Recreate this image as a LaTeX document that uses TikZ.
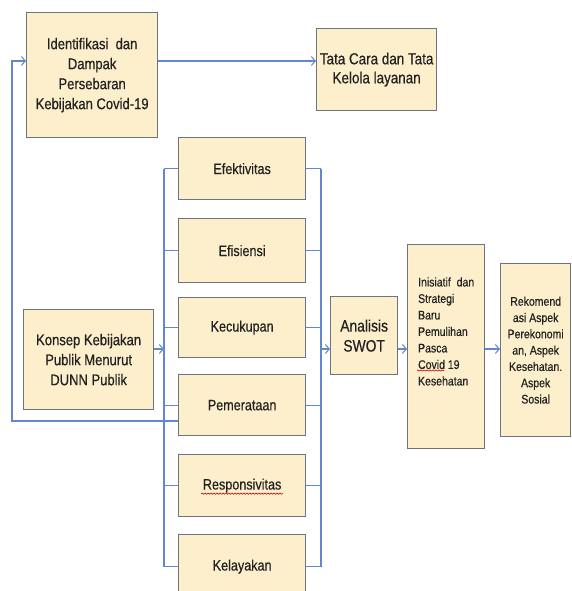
\documentclass[tikz,border=0pt]{standalone}
\usepackage{fontspec}
\setmainfont[FakeStretch=0.84,FakeBold=0.5]{Liberation Sans}
\usetikzlibrary{arrows.meta,decorations.pathmorphing}
\definecolor{boxfill}{HTML}{FDEFCB}
\definecolor{boxline}{HTML}{6E747E}
\definecolor{conn}{HTML}{6385D2}
\definecolor{txt}{HTML}{222222}
\tikzset{
  box/.style={draw=boxline, line width=1.3pt, fill=boxfill, anchor=north west,
    inner sep=2pt, text=txt, align=center},
  link/.style={draw=conn, line width=1.1pt},
  arr/.style={link, -{Straight Barb[length=4pt,width=9pt,line width=1pt]}},
  squig/.style={draw=red!80!black, line width=0.6pt,
    decorate, decoration={snake, amplitude=0.6pt, segment length=3pt}}
}
\begin{document}
\begin{tikzpicture}[x=1pt,y=-1pt]
\clip (0,0) rectangle (571,591);
\fill[white] (0,0) rectangle (571,591);
% boxes
\node[box, minimum width=131pt, minimum height=125pt, font=\fontsize{15.5}{20}\selectfont]
  (ident) at (26,12) {Identifikasi\ \ dan\\Dampak\\Persebaran\\Kebijakan Covid-19};
\node[box, minimum width=120pt, minimum height=82pt, font=\fontsize{16}{19}\selectfont]
  (tata) at (316,28) {Tata Cara dan Tata\\Kelola layanan};
\node[box, minimum width=130pt, minimum height=100pt, font=\fontsize{15.5}{20}\selectfont]
  (konsep) at (23,309) {Konsep Kebijakan\\Publik Menurut\\DUNN Publik};
\tikzset{mid/.style={box, minimum width=127pt, minimum height=62pt, font=\fontsize{15}{20}\selectfont}}
\node[mid] (efek) at (178,137) {Efektivitas};
\node[mid, minimum height=64pt] (efis) at (178,218) {Efisiensi};
\node[mid, minimum height=60pt] (kecu) at (178,297) {Kecukupan};
\node[mid, minimum height=61pt] (peme) at (178,374) {Pemerataan};
\node[mid] (resp) at (178,454) {Responsivitas};
\node[mid, minimum height=64pt] (kela) at (178,534) {Kelayakan};
\node[box, minimum width=67pt, minimum height=78pt, font=\fontsize{16.5}{20}\selectfont]
  (swot) at (330,296) {Analisis\\SWOT};
\node[box, minimum width=77pt, minimum height=204pt, font=\fontsize{12.5}{16.5}\selectfont, align=left,
  inner xsep=6pt]
  (inis) at (407,244) {Inisiatif\ \ dan\\Strategi\\Baru\\Pemulihan\\Pasca\\Covid 19\\Kesehatan\\[14pt]};
\node[box, minimum width=70pt, minimum height=173pt, font=\fontsize{12.5}{16.3}\selectfont]
  (reko) at (500,263) {Rekomend\\asi Aspek\\Perekonomi\\an, Aspek\\Kesehatan.\\Aspek\\Sosial};
% spell-check underlines
\draw[squig] ([xshift=-41pt,yshift=-8pt]resp.center) -- ([xshift=41pt,yshift=-8pt]resp.center);
\coordinate (cv) at (417,370.5);
\draw[squig] (cv) -- ++(27,0);
% connectors
\coordinate (ya) at (0,61);
\coordinate (fb) at (12,421);
\coordinate (yk) at (0,349);
\coordinate (lb) at (164,0);
\coordinate (rb) at (321,0);
\draw[arr] (ident.east |- ya) -- (tata.west |- ya);
\draw[arr] (peme.west |- fb) -- (fb) |- (ident.west |- ya);
\draw[arr] (konsep.east |- yk) -- (lb |- yk);
\draw[link] (lb |- efek.west) -- (lb |- kela.west);
\foreach \n in {efek,efis,kecu,peme,resp,kela}{
  \draw[link] (\n.west) -- (lb |- \n.west);
  \draw[link] (\n.east) -- (rb |- \n.east);
}
\draw[link] (rb |- efek.east) -- (rb |- kela.east);
\draw[arr] (rb |- yk) -- (swot.west |- yk);
\draw[arr] (swot.east |- yk) -- (inis.west |- yk);
\draw[arr] (inis.east |- yk) -- (reko.west |- yk);
\end{tikzpicture}
\end{document}
